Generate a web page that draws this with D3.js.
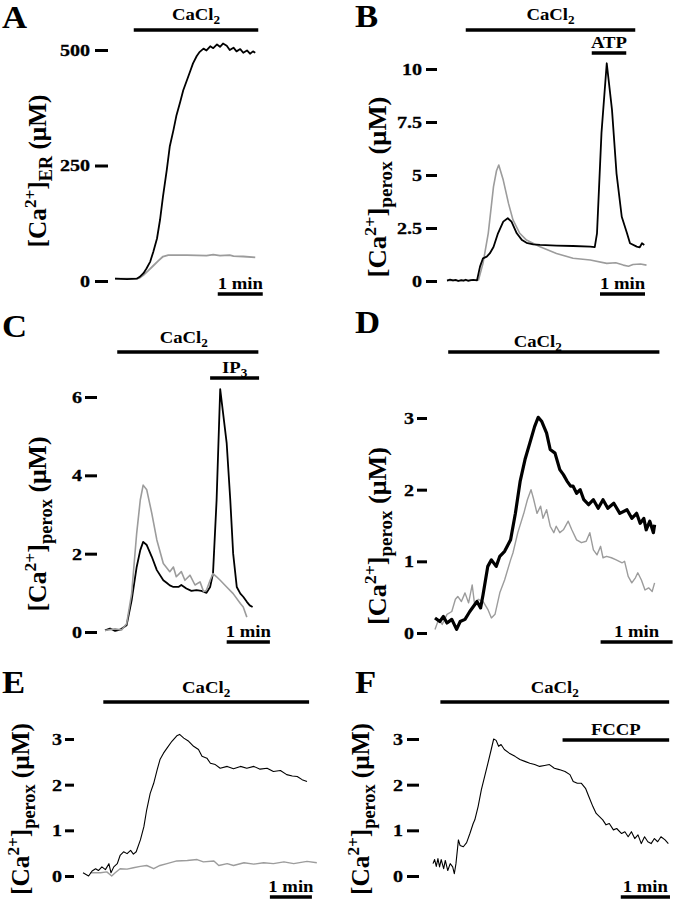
<!DOCTYPE html>
<html><head><meta charset="utf-8">
<script src="https://cdn.jsdelivr.net/npm/d3@7/dist/d3.min.js"></script>
<style>body{margin:0;background:#fff}svg{display:block}</style>
</head><body>
<svg id="c" width="679" height="900"></svg>
<script>
// ---------- DATA (time in s, value in µM) ----------
const aBlack = [[0,5],[16,4],[29,5],[33,9],[38,17],[42,27],[47,42],[51,63],[56,92],[60,132],[64,183],[69,240],[73,291],[78,327],[82,359],[87,388],[91,413],[96,435],[100,453],[104,471],[109,487],[113,496],[118,503],[122,499],[127,508],[131,504],[136,512],[140,507],[144,514],[149,509],[153,500],[158,505],[162,497],[167,502],[171,494],[176,499],[180,492],[184,497],[187,494]];
const aGrey = [[0,5],[29,5],[33,7],[38,13],[44,22],[51,33],[58,44],[64,53],[71,56],[96,56],[122,55],[131,57],[140,55],[153,56],[158,54],[171,53],[187,51]];
const aTicks = [0,250,500];
const aStim = [{label:"CaCl", sub:"2", t0:25, t1:191}];
const aScaleStart = 137;

const bBlack = [[0,0.02],[4,0.06],[8,0.03],[12,0.05],[15,0.0],[19,0.04],[22,0.02],[25,0.06],[28,0.01],[32,0.04],[35,0.05],[40,0.03],[44,0.68],[48,1.07],[53,1.15],[57,1.3],[62,1.6],[68,2.25],[75,2.8],[81,2.96],[86,2.8],[93,2.25],[100,1.93],[106,1.8],[115,1.73],[124,1.7],[146,1.67],[168,1.65],[191,1.62],[197,1.6],[200,2.25],[206,7.0],[213,10.27],[220,8.07],[226,5.08],[233,3.03],[240,2.25],[244,1.78],[253,1.62],[257,1.59],[260,1.78],[263,1.7]];
const bGrey = [[0,0.03],[17,0.02],[35,0.04],[42,0.05],[48,0.83],[55,2.25],[62,4.45],[66,5.2],[69,5.47],[75,4.76],[82,3.66],[88,2.88],[97,2.25],[106,1.93],[124,1.62],[146,1.3],[168,1.07],[191,0.99],[213,0.83],[225,0.86],[235,0.75],[242,0.7],[248,0.78],[258,0.8],[266,0.75]];
const bTicks = [0,2.5,5,7.5,10];
const bStim = [{label:"CaCl", sub:"2", t0:25, t1:251},{label:"ATP", sub:"", t0:193, t1:239}];
const bScaleStart = 204;

const cBlack = [[0,0.04],[7,0.09],[14,0.03],[21,0.06],[30,0.17],[37,0.81],[44,1.66],[49,2.09],[53,2.3],[58,2.22],[65,1.92],[72,1.58],[81,1.32],[86,1.25],[90,1.19],[95,1.15],[102,1.15],[106,1.2],[113,1.11],[120,1.05],[127,1.07],[134,1.05],[141,1.0],[146,1.15],[150,1.49],[155,3.37],[160,6.2],[164,5.59],[169,4.82],[174,3.37],[178,2.0],[183,1.15],[188,0.98],[192,0.9],[197,0.77],[201,0.68],[205,0.64]];
const cGrey = [[0,0.04],[14,0.08],[23,0.05],[30,0.21],[37,0.98],[44,2.52],[49,3.37],[53,3.75],[58,3.63],[65,3.03],[72,2.35],[81,1.75],[90,1.54],[95,1.66],[99,1.41],[106,1.54],[111,1.32],[118,1.45],[125,1.2],[132,1.28],[137,1.03],[141,1.07],[146,1.32],[150,1.49],[155,1.41],[160,1.32],[169,1.15],[178,0.98],[188,0.73],[192,0.64],[197,0.38]];
const cTicks = [0,2,4,6];
const cStim = [{label:"CaCl", sub:"2", t0:17, t1:213},{label:"IP", sub:"3", t0:146, t1:214}];
const cScaleStart = 169;

const dBlack = [[0,0.21],[4,0.16],[7,0.23],[10,0.14],[14,0.19],[18,0.05],[21,0.16],[25,0.19],[29,0.3],[32,0.37],[35,0.44],[38,0.35],[40,0.53],[44,0.93],[47,1.02],[51,0.93],[54,1.07],[58,1.14],[63,1.3],[67,1.67],[71,2.12],[75,2.42],[79,2.65],[83,2.88],[86,3.01],[89,2.95],[93,2.79],[96,2.56],[100,2.51],[104,2.28],[107,2.21],[110,2.12],[113,2.05],[115,2.05],[118,1.95],[121,2.0],[124,1.86],[128,1.79],[132,1.86],[136,1.74],[140,1.86],[144,1.74],[149,1.81],[154,1.67],[160,1.72],[164,1.6],[168,1.67],[171,1.53],[174,1.6],[176,1.44],[179,1.56],[182,1.4],[183,1.51]];
const dGrey = [[0,0.05],[3,0.19],[6,0.12],[10,0.26],[14,0.3],[17,0.47],[19,0.51],[22,0.44],[25,0.56],[28,0.42],[31,0.67],[33,0.4],[36,0.47],[40,0.44],[44,0.33],[47,0.21],[50,0.26],[54,0.56],[58,0.74],[63,1.02],[65,1.12],[69,1.4],[74,1.67],[77,1.86],[80,2.0],[82,1.88],[85,1.67],[88,1.77],[90,1.6],[93,1.72],[96,1.49],[99,1.4],[101,1.49],[104,1.4],[107,1.44],[111,1.56],[114,1.44],[118,1.3],[122,1.26],[126,1.28],[129,1.4],[132,1.16],[135,1.09],[138,1.21],[140,1.05],[143,1.07],[147,1.05],[151,1.02],[156,0.98],[158,1.0],[161,0.79],[164,0.7],[167,0.77],[169,0.84],[172,0.74],[175,0.6],[178,0.63],[181,0.58],[183,0.7]];
const dTicks = [0,1,2,3];
const dStim = [{label:"CaCl", sub:"2", t0:11, t1:187}];
const dScaleStart = 138;

const eBlack = [[0,0.07],[8,0.0],[13,0.11],[18,0.16],[22,0.12],[27,0.2],[32,0.14],[37,0.27],[40,0.07],[44,0.2],[49,0.27],[53,0.45],[58,0.53],[63,0.49],[68,0.56],[72,0.48],[76,0.53],[82,0.79],[87,1.08],[91,1.45],[96,1.81],[101,2.03],[106,2.33],[110,2.55],[115,2.69],[120,2.8],[127,2.95],[134,3.07],[138,3.1],[144,3.02],[151,2.95],[158,2.84],[165,2.77],[170,2.62],[177,2.58],[182,2.47],[189,2.44],[196,2.36],[206,2.4],[215,2.35],[225,2.4],[234,2.36],[244,2.4],[253,2.34],[263,2.36],[272,2.29],[282,2.31],[291,2.22],[299,2.19],[306,2.18],[313,2.11],[320,2.07]];
const eGrey = [[10,0.07],[25,0.07],[34,0.09],[41,0.0],[46,0.07],[53,0.16],[63,0.15],[72,0.18],[82,0.21],[91,0.23],[101,0.16],[110,0.23],[120,0.27],[134,0.33],[149,0.34],[163,0.36],[172,0.31],[187,0.33],[194,0.23],[206,0.27],[215,0.23],[230,0.29],[244,0.26],[258,0.29],[272,0.27],[287,0.31],[301,0.27],[320,0.32],[334,0.29]];
const eTicks = [0,1,2,3];
const eStim = [{label:"CaCl", sub:"2", t0:29, t1:323}];
const eScaleStart = 267;

const fBlack = [[0,0.27],[2,0.36],[4,0.21],[6,0.38],[8,0.2],[10,0.36],[13,0.16],[15,0.34],[18,0.12],[21,0.27],[24,0.2],[26,0.05],[28,0.27],[31,0.79],[33,0.67],[37,0.64],[41,0.73],[45,0.93],[49,1.15],[51,1.23],[55,1.52],[59,1.89],[63,2.18],[67,2.47],[71,2.77],[74,3.0],[77,2.97],[80,2.84],[83,2.88],[87,2.77],[93,2.69],[100,2.62],[106,2.55],[112,2.51],[118,2.47],[124,2.44],[130,2.4],[136,2.42],[142,2.44],[148,2.36],[154,2.33],[161,2.29],[167,2.22],[171,2.07],[176,2.03],[181,2.03],[186,1.92],[190,1.74],[195,1.52],[199,1.37],[203,1.3],[207,1.23],[211,1.12],[215,1.15],[220,1.01],[224,1.04],[230,0.93],[234,0.97],[238,0.86],[242,0.97],[246,0.82],[250,0.9],[254,0.71],[258,0.86],[262,0.75],[266,0.71],[270,0.82],[274,0.75],[278,0.86],[283,0.79],[287,0.71]];
const fTicks = [0,1,2,3];
const fStim = [{label:"CaCl", sub:"2", t0:9, t1:288},{label:"FCCP", sub:"", t0:158, t1:288}];
const fScaleStart = 229;

// ---------- LAYOUT / STYLE ----------
const GREY = "#9c9c9c";
const FONT = "'Liberation Serif','Times New Roman',serif";
const panels = [
 {letter:"A", lx:2, ly:28, x0:115, pps:0.75, tmax:187, y0:281, y1:50, ymax:500, ticks:aTicks, axisX:108, tickLen:13, pad:5,
  series:[{d:aGrey,c:GREY,w:1.8},{d:aBlack,c:"#000",w:1.8}], stim:aStim, stimY:[30], stimDy:[10], stimDx:[0],
  scaleStart:aScaleStart, scaleY:294, sub:"ER", labX:46, labY:171, labLen:153},
 {letter:"B", lx:355, ly:27, x0:447, pps:0.75, tmax:266, y0:281, y1:69, ymax:10, ticks:bTicks, axisX:437, tickLen:11, pad:4,
  series:[{d:bGrey,c:GREY,w:1.6},{d:bBlack,c:"#000",w:1.8}], stim:bStim, stimY:[30,53], stimDy:[10,5], stimDx:[0,0],
  scaleStart:bScaleStart, scaleY:294, sub:"perox", labX:386, labY:187, labLen:181},
 {letter:"C", lx:2, ly:337, x0:105, pps:0.72, tmax:205, y0:632, y1:397, ymax:6, ticks:cTicks, axisX:97, tickLen:12, pad:3,
  series:[{d:cBlack,c:"#000",w:1.8},{d:cGrey,c:GREY,w:1.6}], stim:cStim, stimY:[352,378], stimDy:[9,5], stimDx:[-4,0],
  scaleStart:cScaleStart, scaleY:642, sub:"perox", labX:46, labY:524, labLen:175},
 {letter:"D", lx:355, ly:333, x0:435, pps:1.2, tmax:183, y0:633, y1:418, ymax:3, ticks:dTicks, axisX:427, tickLen:10, pad:3,
  series:[{d:dGrey,c:GREY,w:1.4},{d:dBlack,c:"#000",w:3.2}], stim:dStim, stimY:[352], stimDy:[5], stimDx:[-16],
  scaleStart:dScaleStart, scaleY:642, sub:"perox", labX:386, labY:536, labLen:178},
 {letter:"E", lx:2, ly:693, x0:83, pps:0.7, tmax:334, y0:876, y1:739, ymax:3, ticks:eTicks, axisX:74, tickLen:9, pad:3,
  series:[{d:eGrey,c:GREY,w:1.4},{d:eBlack,c:"#000",w:1.1}], stim:eStim, stimY:[702], stimDy:[9], stimDx:[0],
  scaleStart:eScaleStart, scaleY:897, sub:"perox", labX:29, labY:809, labLen:172},
 {letter:"F", lx:355, ly:693, x0:433, pps:0.82, tmax:287, y0:876, y1:739, ymax:3, ticks:fTicks, axisX:419, tickLen:12, pad:4,
  series:[{d:fBlack,c:"#000",w:1.1}], stim:fStim, stimY:[702,740], stimDy:[9,5], stimDx:[0,0],
  scaleStart:fScaleStart, scaleY:897, sub:"perox", labX:369, labY:809, labLen:172}
];

const svg = d3.select("#c");
const SX = 1.18; // horizontal glyph stretch of the reference lettering
function stretch(sel, k){
  sel.each(function(){
    const L = this.getComputedTextLength();
    this.setAttribute("textLength", L*k);
    this.setAttribute("lengthAdjust","spacingAndGlyphs");
  });
}

panels.forEach(p => {
  const g = svg.append("g").attr("font-family", FONT).attr("font-weight","bold");
  const x = d3.scaleLinear().domain([0,p.tmax]).range([p.x0, p.x0 + p.tmax*p.pps]);
  const y = d3.scaleLinear().domain([0,p.ymax]).range([p.y0, p.y1]);

  // panel letter
  const L = g.append("text").attr("x",p.lx).attr("y",p.ly).attr("font-size",31).text(p.letter);
  stretch(L, 1.12);

  // y axis: detached tick marks only
  const ax = g.append("g").attr("transform",`translate(${p.axisX},0)`)
    .call(d3.axisLeft(y).tickValues(p.ticks).tickSize(p.tickLen).tickPadding(p.pad).tickFormat(d3.format("")));
  ax.attr("font-family",FONT).attr("font-size",17).attr("font-weight","bold");
  ax.select(".domain").remove();
  ax.selectAll(".tick line").attr("stroke","#000").attr("stroke-width",3);
  ax.selectAll(".tick text").attr("font-size",17).attr("font-family",FONT).attr("font-weight","bold")
    .attr("fill","#000").attr("stroke","#000").attr("stroke-width",0.3);
  stretch(ax.selectAll(".tick text"), SX);

  // traces
  const line = d3.line().x(d=>x(d[0])).y(d=>y(d[1]));
  p.series.forEach(s => {
    g.append("path").datum(s.d).attr("d",line).attr("fill","none")
      .attr("stroke",s.c).attr("stroke-width",s.w).attr("stroke-linejoin","round");
  });

  // stimulus bars
  p.stim.forEach((st,i) => {
    const yy = p.stimY[i];
    g.append("line").attr("x1",x(st.t0)).attr("x2",x(st.t1)).attr("y1",yy).attr("y2",yy)
      .attr("stroke","#000").attr("stroke-width",3.5);
    const t = g.append("text").attr("x",(x(st.t0)+x(st.t1))/2 + p.stimDx[i]).attr("y",yy - p.stimDy[i])
      .attr("text-anchor","middle").attr("font-size",17);
    t.append("tspan").text(st.label);
    if (st.sub) t.append("tspan").attr("font-size",12).attr("dy",4).text(st.sub);
    stretch(t, 1.1);
  });

  // scale bar (1 min)
  g.append("line").attr("x1",x(p.scaleStart)).attr("x2",x(p.scaleStart+60))
    .attr("y1",p.scaleY).attr("y2",p.scaleY).attr("stroke","#000").attr("stroke-width",3.5);
  const sb = g.append("text").attr("x",(x(p.scaleStart)+x(p.scaleStart+60))/2).attr("y",p.scaleY-5)
    .attr("text-anchor","middle").attr("font-size",17).text("1 min");
  stretch(sb, 1.1);

  // y label
  const yl = g.append("text").attr("transform",`translate(${p.labX},${p.labY}) rotate(-90)`)
    .attr("text-anchor","middle").attr("font-size",25);
  yl.append("tspan").text("[Ca");
  yl.append("tspan").attr("font-size",17).attr("dy",-10).text("2+");
  yl.append("tspan").attr("dy",10).text("]");
  yl.append("tspan").attr("font-size",18).attr("dy",6).text(p.sub);
  yl.append("tspan").attr("dy",-6).text(" (μM)");
  yl.attr("textLength",p.labLen).attr("lengthAdjust","spacingAndGlyphs");
});
</script>
</body></html>
